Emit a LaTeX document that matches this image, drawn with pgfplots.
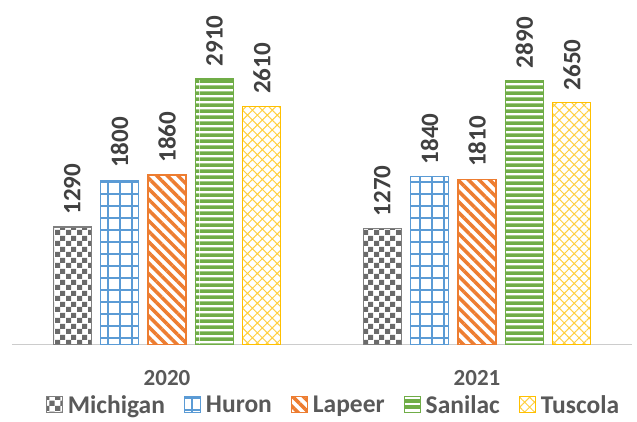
\documentclass[border=0pt]{standalone}
\usepackage{pgfplots}
\pgfplotsset{compat=1.18}
\usepackage{fontspec}
\setmainfont{Carlito}
\usetikzlibrary{patterns,patterns.meta}
\definecolor{cMich}{HTML}{7F7F7F}
\definecolor{cMichD}{HTML}{6A6A6A}
\definecolor{cHur}{HTML}{5B9BD5}
\definecolor{cLap}{HTML}{ED7D31}
\definecolor{cSan}{HTML}{70AD47}
\definecolor{cTus}{HTML}{FFC000}
\definecolor{cTusL}{HTML}{FFCF40}
\definecolor{txt}{HTML}{595959}
\definecolor{lbl}{HTML}{404040}
\pgfdeclarepatternformonly{checker}{\pgfqpoint{0pt}{0pt}}{\pgfqpoint{11pt}{11pt}}{\pgfqpoint{11pt}{11pt}}{%
  \pgfpathrectangle{\pgfqpoint{0pt}{0pt}}{\pgfqpoint{5.5pt}{5.5pt}}%
  \pgfpathrectangle{\pgfqpoint{5.5pt}{5.5pt}}{\pgfqpoint{5.5pt}{5.5pt}}%
  \pgfusepath{fill}}
\pgfdeclarepatternformonly{hlines}{\pgfqpoint{0pt}{0pt}}{\pgfqpoint{200pt}{6.3pt}}{\pgfqpoint{200pt}{6.3pt}}{%
  \pgfpathrectangle{\pgfqpoint{0pt}{0pt}}{\pgfqpoint{200pt}{4pt}}%
  \pgfusepath{fill}}
\begin{document}
\begin{tikzpicture}
\path (-12pt,-77pt) rectangle (625pt,345pt);
\begin{axis}[
  scale only axis,
  width=620pt, height=345pt,
  at={(0pt,0pt)}, anchor=south west,
  xmin=-0.5, xmax=1.5,
  ymin=0, ymax=3774,
  axis y line=none,
  axis x line*=bottom,
  x axis line style={draw=black!20, line width=1pt, -},
  xtick={0,1},
  xticklabels={2020,2021},
  major tick length=0pt,
  xticklabel style={font=\fontsize{23}{26}\selectfont\bfseries, text=txt, anchor=center, yshift=-33pt},
  bar width=0.1226,
  ybar,
  /pgf/number format/1000 sep={},
  /pgf/number format/assume math mode=true,
  nodes near coords={\pgfmathprintnumber{\pgfplotspointmeta}},
  nodes near coords style={rotate=90, anchor=west, font=\fontsize{25}{28}\selectfont\bfseries, text=lbl, inner sep=0pt, xshift=12pt},
  legend columns=5,
  legend style={draw=none, at={(320.5pt,-60pt)}, anchor=center, font=\fontsize{25.5}{30}\selectfont\bfseries, text=txt,
    inner sep=0pt, nodes={inner sep=0pt},
    /tikz/every even column/.append style={column sep=19pt},
    /tikz/every odd column/.append style={column sep=5pt}},
  legend image code/.code={\draw[#1, line width=1pt] (0pt,-8pt) rectangle (16pt,8pt);},
]
\addplot[bar shift=-0.306, draw=cMich, line width=1.2pt, pattern=checker, pattern color=cMichD]
  coordinates {(0,1290) (1,1270)};
\addplot[bar shift=-0.153, draw=cHur, line width=1.2pt, pattern={Hatch[angle=0, distance=12pt, line width=1.3pt]}, pattern color=cHur]
  coordinates {(0,1800) (1,1840)};
\addplot[bar shift=0, draw=cLap, line width=1.2pt, pattern={Lines[angle=-45, distance=7.5pt, line width=3.5pt]}, pattern color=cLap]
  coordinates {(0,1860) (1,1810)};
\addplot[bar shift=0.153, draw=cSan, line width=1.6pt, pattern=hlines, pattern color=cSan]
  coordinates {(0,2910) (1,2890)};
\addplot[bar shift=0.306, draw=cTus, line width=1.2pt, pattern={Hatch[angle=45, distance=7pt, line width=1pt]}, pattern color=cTusL]
  coordinates {(0,2610) (1,2650)};
\legend{Michigan,Huron,Lapeer,Sanilac,Tuscola}
\end{axis}
\end{tikzpicture}
\end{document}
